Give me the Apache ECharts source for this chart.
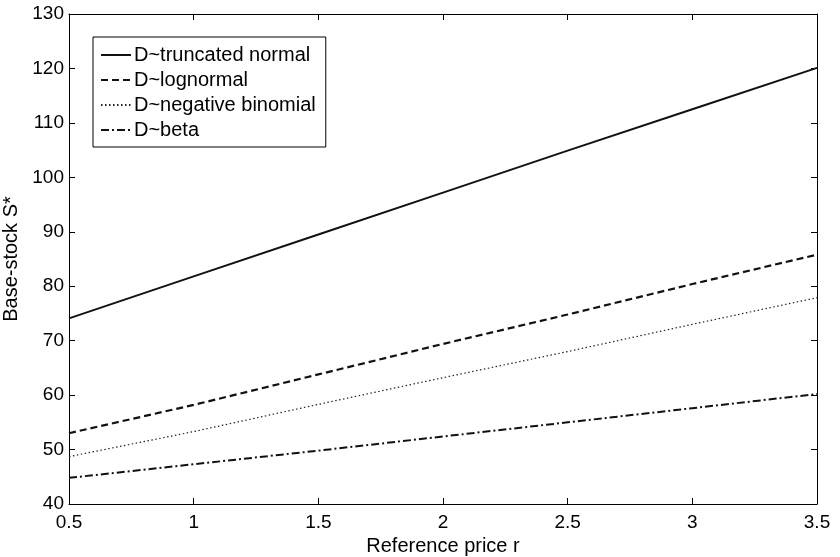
<!DOCTYPE html>
<html>
<head>
<meta charset="utf-8">
<script src="https://cdn.jsdelivr.net/npm/echarts@6/dist/echarts.min.js"></script>
<style>html,body{margin:0;padding:0;background:#fff}#c{width:840px;height:557px}</style>
</head>
<body>
<div id="c"></div>
<script>
const rValues = [0.5, 1, 1.5, 2, 2.5, 3, 3.5];
const truncNormal = [74.1, 81.8, 89.5, 97.2, 104.9, 112.5, 120.1];
const lognormal = [53.0, 58.2, 63.8, 69.4, 74.8, 80.4, 85.8];
const negBinomial = [48.7, 53.3, 58.3, 63.2, 68.0, 73.0, 77.9];
const betaDist = [44.8, 47.3, 49.8, 52.4, 55.0, 57.6, 60.2];
const seriesNames = ['D~truncated normal', 'D~lognormal', 'D~negative binomial', 'D~beta'];

const pair = arr => rValues.map((r, i) => [r, arr[i]]);
const font = 'Liberation Sans, Arial, sans-serif';

const xBase = {
  type: 'value', min: 0.5, max: 3.5, interval: 0.5,
  axisLine: {show: true, onZero: false, lineStyle: {color: '#000', width: 1}},
  axisTick: {show: true, inside: true, length: 6, lineStyle: {color: '#000'}},
  splitLine: {show: false}
};
const yBase = {
  type: 'value', min: 40, max: 130, interval: 10,
  axisLine: {show: true, onZero: false, lineStyle: {color: '#000', width: 1}},
  axisTick: {show: true, inside: true, length: 6, lineStyle: {color: '#000'}},
  splitLine: {show: false}
};

const chart = echarts.init(document.getElementById('c'));
chart.setOption({
  backgroundColor: '#fff',
  animation: false,
  grid: {left: 69, right: 23, top: 14, bottom: 53, containLabel: false, outerBoundsMode: 'none'},
  legend: {
    orient: 'vertical', left: 93, top: 37,
    backgroundColor: '#fff', borderColor: '#000', borderWidth: 1,
    padding: [8, 10, 7, 7],
    itemWidth: 30, itemHeight: 14, itemGap: 5,
    itemStyle: {opacity: 0},
    textStyle: {fontFamily: font, fontSize: 20, color: '#000', padding: [0, 0, 0, -2]},
    data: seriesNames
  },
  xAxis: [
    Object.assign({}, xBase, {
      position: 'bottom',
      axisLabel: {color: '#000', fontFamily: font, fontSize: 19, margin: 9},
      name: 'Reference price r', nameLocation: 'middle', nameGap: 28,
      nameTextStyle: {color: '#000', fontFamily: font, fontSize: 20}
    }),
    Object.assign({}, xBase, {position: 'top', axisLabel: {show: false}})
  ],
  yAxis: [
    Object.assign({}, yBase, {
      position: 'left',
      axisLabel: {color: '#000', fontFamily: font, fontSize: 19, margin: 5},
      name: 'Base-stock S*', nameLocation: 'middle', nameGap: 39,
      nameTextStyle: {color: '#000', fontFamily: font, fontSize: 20}
    }),
    Object.assign({}, yBase, {position: 'right', axisLabel: {show: false}})
  ],
  series: [
    {name: seriesNames[0], type: 'line', symbol: 'none', data: pair(truncNormal),
     lineStyle: {color: '#111', width: 2, type: 'solid'}, itemStyle: {color: '#111'}},
    {name: seriesNames[1], type: 'line', symbol: 'none', data: pair(lognormal),
     lineStyle: {color: '#111', width: 2.2, type: [7, 4]}, itemStyle: {color: '#111'}},
    {name: seriesNames[2], type: 'line', symbol: 'none', data: pair(negBinomial),
     lineStyle: {color: '#222', width: 1.2, type: [1.5, 2.5]}, itemStyle: {color: '#222'}},
    {name: seriesNames[3], type: 'line', symbol: 'none', data: pair(betaDist),
     lineStyle: {color: '#111', width: 2, type: [8, 3, 2, 3]}, itemStyle: {color: '#111'}}
  ]
});
</script>
</body>
</html>
